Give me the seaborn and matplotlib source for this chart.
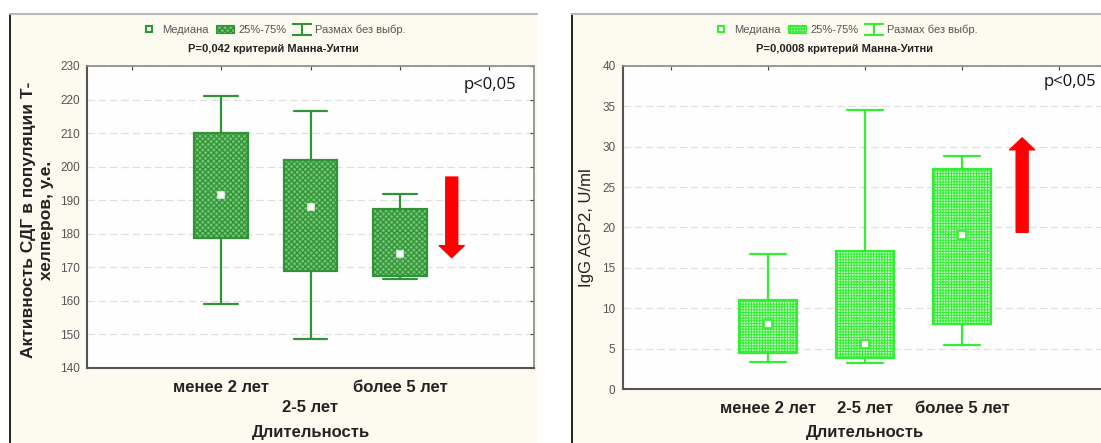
import numpy as np
import pandas as pd
import matplotlib
matplotlib.use("Agg")
import matplotlib.pyplot as plt
import seaborn as sns
from matplotlib.patches import Rectangle, Patch
from matplotlib.lines import Line2D
from matplotlib.collections import LineCollection
from matplotlib.container import ErrorbarContainer

# ---------------- data ----------------
categories = ["менее 2 лет", "2-5 лет", "более 5 лет"]

# left panel: SDH activity in T-helper population
sdh_min = [159.0, 148.5, 166.5]
sdh_q1 = [178.7, 169.0, 167.5]
sdh_med = [191.5, 188.0, 174.0]
sdh_q3 = [210.0, 202.0, 187.5]
sdh_max = [221.0, 216.5, 192.0]
sdh_arrow = [196.9, 172.9]          # arrow start, arrow tip

# right panel: IgG AGP2
igg_min = [3.3, 3.2, 5.5]
igg_q1 = [4.5, 3.8, 8.0]
igg_med = [8.1, 5.6, 19.1]
igg_q3 = [11.0, 17.1, 27.2]
igg_max = [16.7, 34.5, 28.9]
igg_arrow = [19.4, 31.1]

left_yticks = [140, 150, 160, 170, 180, 190, 200, 210, 220, 230]
right_yticks = [0, 5, 10, 15, 20, 25, 30, 35, 40]

legend_labels = ["Медиана", "25%-75%", "Размах без выбр."]
left_title = "P=0,042 критерий Манна-Уитни"
right_title = "P=0,0008 критерий Манна-Уитни"
left_ylabel = "Активность СДГ в популяции Т-\nхелперов, у.е."
right_ylabel = "IgG AGP2, U/ml"
xlabel = "Длительность"
sig_text = "p<0,05"


def five_number_frame(mins, q1s, meds, q3s, maxs):
    rows = []
    for c, a, b, m, d, e in zip(categories, mins, q1s, meds, q3s, maxs):
        for v in (a, b, m, d, e):
            rows.append({"cat": c, "val": v})
    return pd.DataFrame(rows)


df_left = five_number_frame(sdh_min, sdh_q1, sdh_med, sdh_q3, sdh_max)
df_right = five_number_frame(igg_min, igg_q1, igg_med, igg_q3, igg_max)
med_left = pd.DataFrame({"cat": categories, "val": sdh_med})
med_right = pd.DataFrame({"cat": categories, "val": igg_med})

# ---------------- style ----------------
sns.set_theme(style="white")
plt.rcParams["font.family"] = ["Liberation Sans", "DejaVu Sans"]
plt.rcParams["axes.unicode_minus"] = False

W, H = 1101.0, 443.0
fig = plt.figure(figsize=(W / 100, H / 100), dpi=100)
fig.patch.set_facecolor("white")

cream = "#fdfbef"
# panel backgrounds and frame lines (pixel layout)
for (x0, x1) in [(10, 537), (572, 1101)]:
    fig.add_artist(Rectangle((x0 / W, 0), (x1 - x0) / W, (H - 14) / H,
                             transform=fig.transFigure, facecolor=cream,
                             edgecolor="none", zorder=0))
    fig.add_artist(Line2D([x0 / W, x0 / W], [0, (H - 14) / H],
                          transform=fig.transFigure, color="#111111", lw=1.3, zorder=1))
    fig.add_artist(Line2D([x0 / W, x1 / W], [(H - 14) / H, (H - 14) / H],
                          transform=fig.transFigure, color="#b8b8b8", lw=1.5, zorder=1))


def px_axes(l, t, r, b):
    return fig.add_axes([l / W, (H - b) / H, (r - l) / W, (b - t) / H])


ax1 = px_axes(87, 66, 534, 368)
ax2 = px_axes(622.5, 66, 1107.5, 389)


def draw_panel(ax, df, med, line_c, face_c, hatch_c, hatch, hatch_lw, yticks, ylim,
               arrow, arrow_x, med_ms, med_edge):
    with plt.rc_context({"hatch.linewidth": hatch_lw, "hatch.color": hatch_c}):
        sns.boxplot(data=df, x="cat", y="val", order=categories, whis=(0, 100),
                    width=0.6, color=face_c, linecolor=line_c, linewidth=1.6,
                    showfliers=False, medianprops={"visible": False}, ax=ax)
        for p in ax.patches:
            p.set_hatch(hatch)
            p.set_facecolor(face_c)
            p.set_edgecolor(line_c)
    # widen whisker caps (caps are the horizontal two-point lines)
    for ln in ax.lines:
        xd, yd = np.asarray(ln.get_xdata(), float), np.asarray(ln.get_ydata(), float)
        if len(xd) == 2 and yd[0] == yd[1] and xd[0] != xd[1]:
            c = xd.mean()
            ln.set_xdata([c - 0.19, c + 0.19])
    sns.pointplot(data=med, x="cat", y="val", order=categories, errorbar=None,
                  linestyle="none", marker="s", color=line_c, ax=ax, zorder=5)
    for ln in ax.lines[-1:]:
        ln.set_markerfacecolor("white")
        ln.set_markeredgecolor(med_edge)
        ln.set_markersize(med_ms)
        ln.set_markeredgewidth(1.2)

    ax.set_facecolor("#fefefe")
    ax.set_xlim(-1.5, 3.5)
    ax.set_ylim(*ylim)
    ax.set_yticks(yticks)
    ax.set_yticklabels([str(t) for t in yticks], fontsize=8.5, color="#555555")
    ax.yaxis.grid(True, color="#e0e0e0", linestyle=(0, (6, 3)), linewidth=0.9)
    ax.xaxis.grid(False)
    ax.set_axisbelow(True)
    ax.tick_params(axis="both", direction="in", top=True, right=True, length=3,
                   width=0.8, color="#444444", pad=5)
    ax.tick_params(axis="x", pad=8.5)
    for s in ["left", "bottom"]:
        ax.spines[s].set_color("#555555")
        ax.spines[s].set_linewidth(1.5)
    for s in ["top", "right"]:
        ax.spines[s].set_color("#888888")
        ax.spines[s].set_linewidth(1.2)

    ax.annotate("", xy=(arrow_x, arrow[1]), xytext=(arrow_x, arrow[0]),
                arrowprops=dict(arrowstyle="simple,head_length=0.86,head_width=1.8,tail_width=0.86",
                                color="#ff0000", shrinkA=0, shrinkB=0, mutation_scale=10),
                zorder=6)

    # legend handles
    h_med = Line2D([], [], marker="s", linestyle="none", markerfacecolor="white",
                   markeredgecolor=line_c, markersize=5, markeredgewidth=1.5)
    h_box = Patch(facecolor=face_c, edgecolor=line_c, hatch=hatch, linewidth=0.8)
    cap = Line2D([], [], color=line_c, marker="_", markersize=14, markeredgewidth=1.5)
    bar = LineCollection([], colors=line_c, linewidths=1.5)
    h_wh = ErrorbarContainer((None, (cap, cap), (bar,)), has_xerr=False, has_yerr=True)
    return [h_med, h_box, h_wh]


green_l = "#2f9436"
face_l = "#74c274"
hatch_l = "#2a8a30"
green_r = "#33ee33"
face_r = "#c4f7c4"
hatch_r = "#55ee55"

handles_l = draw_panel(ax1, df_left, med_left, green_l, face_l, hatch_l, "xxxxxx", 0.9,
                       left_yticks, (140, 230), sdh_arrow, 2.58, 5, "#e8f5e8")
handles_r = draw_panel(ax2, df_right, med_right, green_r, face_r, hatch_r, "++++++", 0.7,
                       right_yticks, (0, 40), igg_arrow, 2.62, 6, green_r)

# x tick labels
ax1.set_xticks([-1, 0, 1, 2, 3])
ax1.set_xticklabels(["", categories[0], "\n" + categories[1], categories[2], ""],
                    fontsize=12, fontweight="bold", color="#222222")
for t in ax1.get_xticklabels():
    t.set_linespacing(1.45)
ax2.set_xticks([-1, 0, 1, 2, 3])
ax2.set_xticklabels(["", categories[0], categories[1], categories[2], ""],
                    fontsize=12, fontweight="bold", color="#222222")

# axis labels
ax1.set_xlabel(xlabel, fontsize=12, fontweight="bold", color="#222222", va="center")
ax1.xaxis.set_label_coords(0.5, (368 - 432) / 302)
ax2.set_xlabel(xlabel, fontsize=12, fontweight="bold", color="#222222", va="center")
ax2.xaxis.set_label_coords(0.5, (389 - 432) / 323)

ax1.set_ylabel(left_ylabel, fontsize=12.5, fontweight="bold", color="#222222",
               va="center", ha="center", linespacing=1.3)
ax1.yaxis.set_label_coords((37.5 - 87) / 447, 0.49)
ax2.set_ylabel(right_ylabel, fontsize=12, color="#222222", va="center", ha="center")
ax2.yaxis.set_label_coords((587 - 622.5) / 485, 0.5)

# significance text
ax1.text(0.902, 0.937, sig_text, transform=ax1.transAxes, fontsize=12,
         family=["Open Sans", "DejaVu Sans"], ha="center", va="center", color="#111111")
ax2.text(0.923, 0.95, sig_text, transform=ax2.transAxes, fontsize=12,
         family=["Open Sans", "DejaVu Sans"], ha="center", va="center", color="#111111")

# legends and subtitles
for ax, handles, cx, ly, ty, title in [
    (ax1, handles_l, (273 - 87) / 447, 1 + (66 - 30) / 302, 1 + (66 - 49) / 302, left_title),
    (ax2, handles_r, (845 - 622.5) / 485, 1 + (66 - 30) / 323, 1 + (66 - 49) / 323, right_title),
]:
    leg = ax.legend(handles, legend_labels, loc="center", bbox_to_anchor=(cx, ly),
                    ncol=3, frameon=False, fontsize=8, handlelength=1.6,
                    handletextpad=0.4, columnspacing=0.6, labelcolor="#555555",
                    borderaxespad=0)
    ax.text(cx, ty, title, transform=ax.transAxes, fontsize=8, fontweight="bold",
            ha="center", va="center", color="#222222")

fig.savefig("out.png", dpi=100)
